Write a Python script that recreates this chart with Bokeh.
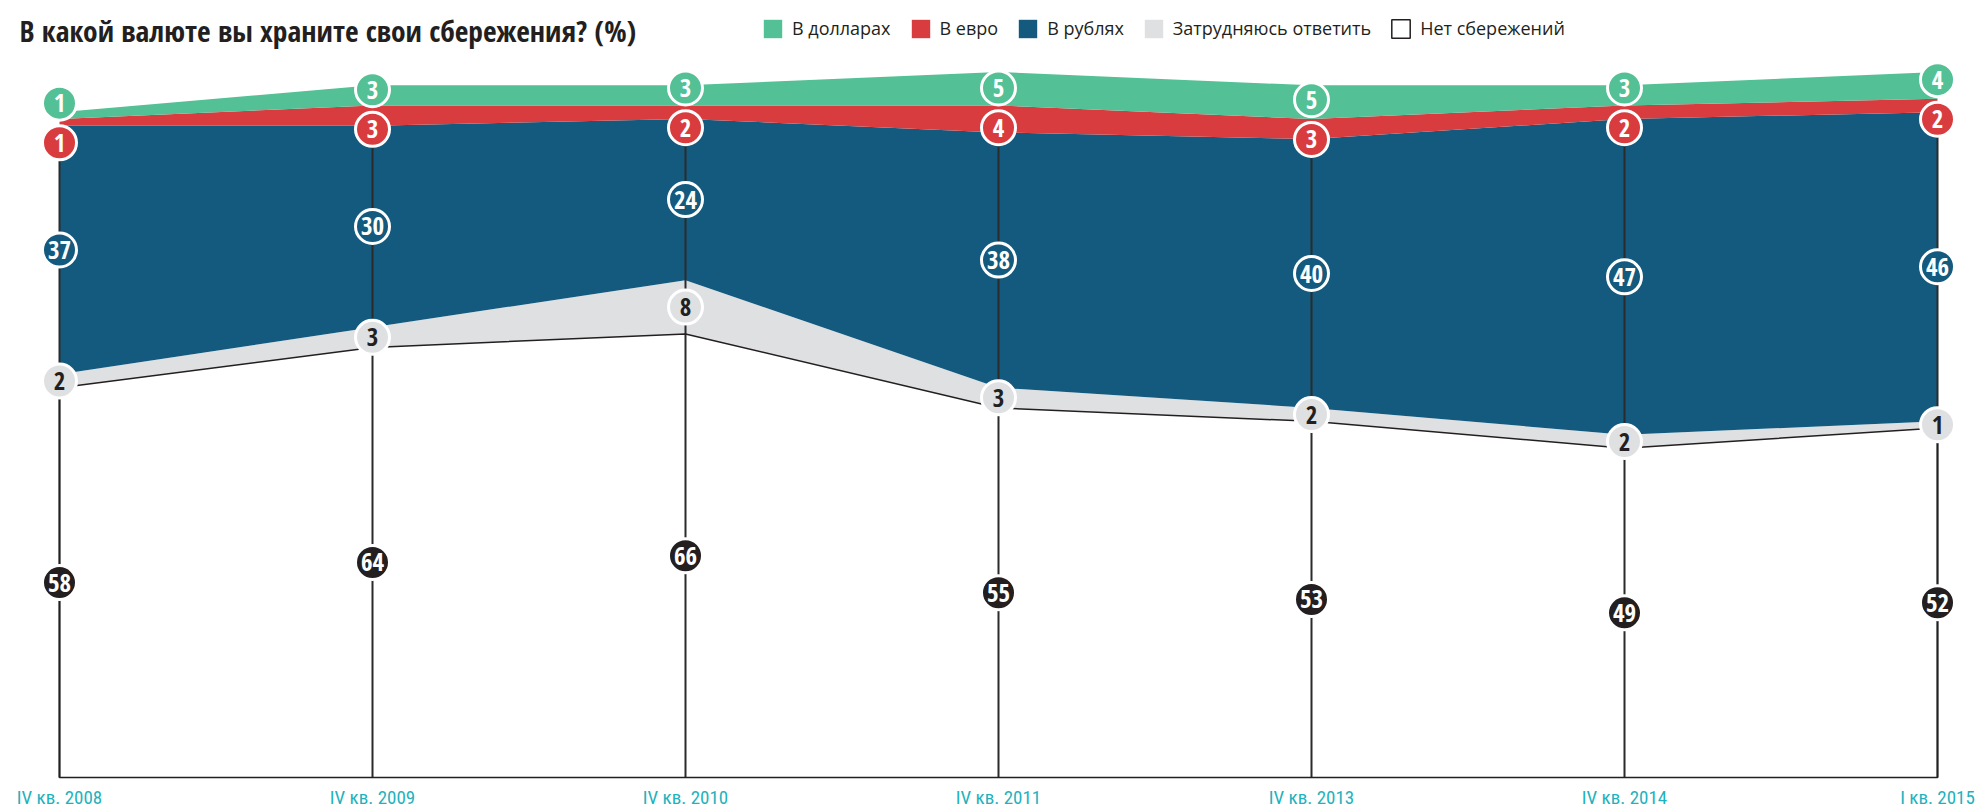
import numpy as np
from bokeh.plotting import figure
from bokeh.models import ColumnDataSource, Range1d, Legend, LegendItem, Label
from bokeh.core.properties import value
from bokeh.embed import file_html
from bokeh.resources import INLINE

# ---- data ----
periods = ["IV кв. 2008", "IV кв. 2009", "IV кв. 2010", "IV кв. 2011",
           "IV кв. 2013", "IV кв. 2014", "I кв. 2015"]
no_savings = [58, 64, 66, 55, 53, 49, 52]      # Нет сбережений
hard_to_say = [2, 3, 8, 3, 2, 2, 1]            # Затрудняюсь ответить
rubles = [37, 30, 24, 38, 40, 47, 46]          # В рублях
euro = [1, 3, 2, 4, 3, 2, 2]                   # В евро
dollars = [1, 3, 3, 5, 5, 3, 4]                # В долларах

title_text = "В какой валюте вы храните свои сбережения? (%)"
series_keys = ["net", "hard", "rub", "eur", "usd"]
series_names = ["Нет сбережений", "Затрудняюсь ответить", "В рублях", "В евро", "В долларах"]
colors = ["#ffffff", "#dfe0e2", "#135a7e", "#d93c3f", "#53c095"]
circle_fill = ["#231f20", "#dfe0e2", "#135a7e", "#d93c3f", "#53c095"]
circle_text = ["#ffffff", "#231f20", "#ffffff", "#ffffff", "#ffffff"]

DARK = "#231f20"
TEAL = "#1fb2bd"
AXIS_FONT = "Roboto Condensed"
LEGEND_FONT = "Open Sans"
BOLD_FONT = "Open Sans Condensed"

W, H = 1976, 808
x = np.arange(len(periods))
vals = np.array([no_savings, hard_to_say, rubles, euro, dollars], dtype=float)
cum = np.cumsum(vals, axis=0)
mid = cum - vals / 2.0

# thin euro / dollar bands: spread their labels so that the circles do not overlap
sep, shift = 5.9, 0.6
for i in range(len(x)):
    if mid[4, i] - mid[3, i] < sep:
        m = (mid[4, i] + mid[3, i]) / 2.0 - shift
        mid[3, i] = m - sep / 2.0
        mid[4, i] = m + sep / 2.0

src = ColumnDataSource(dict(x=x, net=no_savings, hard=hard_to_say, rub=rubles,
                            eur=euro, usd=dollars))

# frame fills the whole canvas
x_left_px, x_right_px = 59, 1937
px_per_x = (x_right_px - x_left_px) / (len(x) - 1)
base_px, px_per_y = 777, 6.72
p = figure(width=W, height=H, output_backend="svg", toolbar_location=None,
           x_range=Range1d(-x_left_px / px_per_x, (len(x) - 1) + (W - x_right_px) / px_per_x),
           y_range=Range1d(-(H - base_px) / px_per_y, base_px / px_per_y),
           x_axis_location=None, y_axis_location=None,
           min_border=0)
p.xgrid.visible = False
p.ygrid.visible = False
p.outline_line_color = None
p.background_fill_color = "white"

areas = p.varea_stack(series_keys, x="x", color=colors, source=src)

# vertical guide lines from the base to the top of the rouble band
top_rub = cum[2]
p.segment(x0=x, y0=np.zeros(len(x)), x1=x, y1=top_rub, line_color="#2b2b2b", line_width=2)
# outlined "no savings" region (top edge and base line)
net_patch = p.patch(x=np.concatenate([x, x[::-1]]),
                    y=np.concatenate([no_savings, np.zeros(len(x))]),
                    fill_color="white", fill_alpha=0, line_color=DARK, line_width=1.5)

# value labels in circles
lx, ly, lt, lf, lc = [], [], [], [], []
for k in range(5):
    for i in range(len(x)):
        lx.append(x[i]); ly.append(mid[k, i]); lt.append(str(int(vals[k, i])))
        lf.append(circle_fill[k]); lc.append(circle_text[k])
lsrc = ColumnDataSource(dict(x=lx, y=ly, t=lt, f=lf, c=lc))
p.scatter(x="x", y="y", source=lsrc, size=34, fill_color="f", line_color="white", line_width=3)
p.text(x="x", y="y", text="t", source=lsrc, text_color="c", text_align="center",
       text_baseline="middle", text_font=value(BOLD_FONT), text_font_style="bold",
       text_font_size="25px")

# period labels under the base line
psrc = ColumnDataSource(dict(x=x, y=np.zeros(len(x)), t=periods))
p.text(x="x", y="y", text="t", source=psrc, text_color=TEAL, text_align="center",
       text_baseline="top", y_offset=8, text_font=value(AXIS_FONT),
       text_font_size="19px")

# title
p.add_layout(Label(x=19, y=H - 30, x_units="screen", y_units="screen", text=title_text,
                   text_font=BOLD_FONT, text_font_style="bold", text_font_size="29.5px",
                   text_color=DARK, text_baseline="middle"))

# legend
items = []
for k in [4, 3, 2, 1, 0]:
    rs = [areas[k]] if k != 0 else [areas[0], net_patch]
    items.append(LegendItem(label=series_names[k], renderers=rs))
legend = Legend(items=items, orientation="horizontal", location=(761, H - 40),
                glyph_width=23, glyph_height=23, label_height=23,
                label_text_font=LEGEND_FONT, label_text_font_size="18px",
                label_text_color=DARK,
                label_standoff=8, spacing=18, padding=0, margin=0,
                border_line_color=None, background_fill_alpha=0)
p.add_layout(legend)

open("out.html", "w").write(file_html(p, INLINE))
